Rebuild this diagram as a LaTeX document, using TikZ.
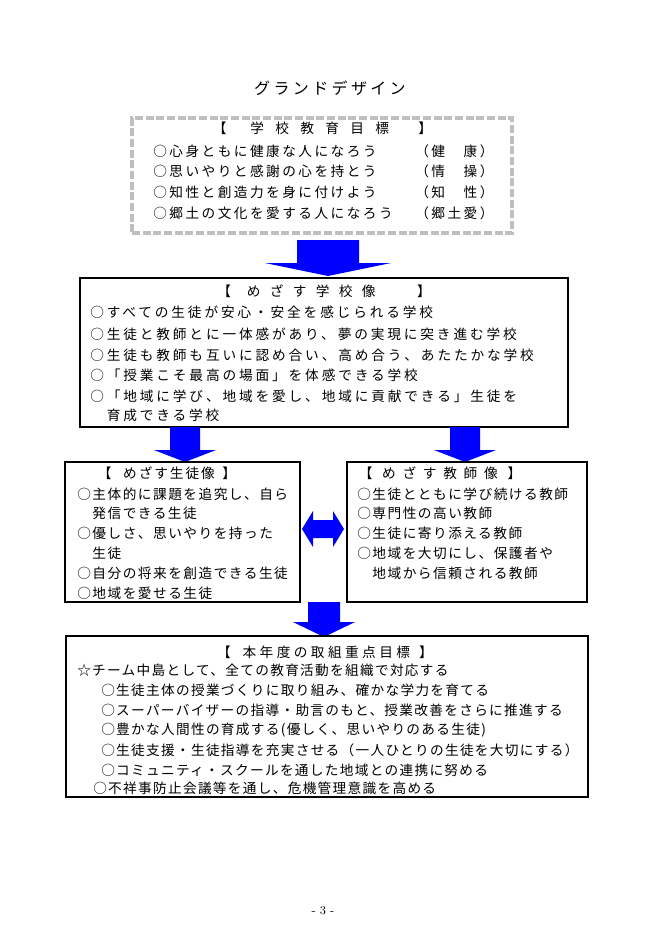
\documentclass[tikz,border=0pt]{standalone}
\usepackage{fontspec}
\newfontfamily\jptitle[LetterSpace=21]{Noto Sans CJK JP}
\newfontfamily\jpgoal[LetterSpace=18]{Noto Sans CJK JP}
\newfontfamily\jpschool[LetterSpace=21]{Noto Sans CJK JP}
\newfontfamily\jpside[LetterSpace=11]{Noto Sans CJK JP}
\newfontfamily\jpstudenthead[LetterSpace=14]{Noto Sans CJK JP}
\newfontfamily\jpteacherhead[LetterSpace=49]{Noto Sans CJK JP}
\newfontfamily\jpplan[LetterSpace=9.5]{Noto Sans CJK JP}
\newfontfamily\jpplanhead[LetterSpace=25]{Noto Sans CJK JP}
\newcommand\wordgap[1]{\spaceskip=#1\relax}
\usetikzlibrary{fit}

\tikzset{
  frame/.style={draw, line width=1.1pt, inner sep=0pt},
  dashframe/.style={draw=gray!50, line width=2.4pt, dash pattern=on 6pt off 2pt, inner sep=0pt},
  line/.style={anchor=west, inner sep=0pt},
  head/.style={inner sep=0pt},
  jpsize/.style={font=#1\fontsize{10.25pt}{12pt}\selectfont},
  goaltxt/.style={jpsize=\jpgoal},
  schooltxt/.style={jpsize=\jpschool},
  sidetxt/.style={jpsize=\jpside},
  plantxt/.style={jpsize=\jpplan},
  blk/.style={fill=blue},
}
% centre x, top, head start, tip, shaft half width, head half width
\newcommand\blkdown[6]{%
  \fill[blk] (#1-#5,#2) -- (#1+#5,#2) -- (#1+#5,#3) -- (#1+#6,#3) -- (#1,#4)
    -- (#1-#6,#3) -- (#1-#5,#3) -- cycle;}

\begin{document}
\begin{tikzpicture}[x=0.75pt,y=-0.75pt]
\useasboundingbox (0,0) rectangle (660,933);

\node[head, font=\jptitle\fontsize{12pt}{14pt}\selectfont] (title) at (330,88) {グランドデザイン};

% 学校教育目標
\node[dashframe, fit={(132,118) (512,233)}] (goal) {};
\node[head, goaltxt] (goalhead) at (322.5,128) {\wordgap{8.5pt}【\hspace{9.4pt} 学 校 教 育 目 標\hspace{13.5pt} 】};
\foreach \y/\t/\r [count=\i] in {151/{○心身ともに健康な人になろう}/{（健　康）},
    171/{○思いやりと感謝の心を持とう}/{（情　操）},
    192/{○知性と創造力を身に付けよう}/{（知　性）},
    213/{○郷土の文化を愛する人になろう}/{（郷土愛）}} {
  \node[line, goaltxt] (g\i) at (153,\y) {\t};
  \node[line, goaltxt] (gr\i) at (415,\y) {\r};
}

\blkdown{328}{240}{263}{276}{31}{63}

% めざす学校像
\node[frame, fit={(80,278) (568,427)}] (school) {};
\node[head, schooltxt] (schoolhead) at (324,291) {\wordgap{7pt}【\hspace{5pt} め ざ す 学 校 像\hspace{24pt} 】};
\foreach \y/\t [count=\i] in {312/{○すべての生徒が安心・安全を感じられる学校},
    334/{○生徒と教師とに一体感があり、夢の実現に突き進む学校},
    355/{○生徒も教師も互いに認め合い、高め合う、あたたかな学校},
    375/{○「授業こそ最高の場面」を体感できる学校},
    396/{○「地域に学び、地域を愛し、地域に貢献できる」生徒を},
    415/{　育成できる学校}} {
  \node[line, schooltxt] (s\i) at (90,\y) {\t};
}

\blkdown{185}{427}{450}{462}{15}{31}
\blkdown{465}{427}{450}{462}{15}{31}

% めざす生徒像
\node[frame, fit={(65,462) (300,602)}] (student) {};
\node[head, jpsize=\jpstudenthead] (studenthead) at (167,473) {【\hspace{5pt} めざす生徒像\hspace{2pt} 】};
\foreach \y/\t [count=\i] in {494/{○主体的に課題を追究し、自ら},
    513/{　発信できる生徒},
    533/{○優しさ、思いやりを持った},
    553/{　生徒},
    573/{○自分の将来を創造できる生徒},
    593/{○地域を愛せる生徒}} {
  \node[line, sidetxt] (p\i) at (77,\y) {\t};
}

% めざす教師像
\node[frame, fit={(347,462) (587,602)}] (teacher) {};
\node[head, jpsize=\jpteacherhead] (teacherhead) at (440,473) {【 めざす教師像 】};
\foreach \y/\t [count=\i] in {494/{○生徒とともに学び続ける教師},
    513/{○専門性の高い教師},
    533/{○生徒に寄り添える教師},
    553/{○地域を大切にし、保護者や},
    573/{　地域から信頼される教師}} {
  \node[line, sidetxt] (t\i) at (357,\y) {\t};
}

% 双方向
\fill[blk] (302,529) -- (313,511) -- (313,520) -- (333,520) -- (333,511) -- (344,529)
  -- (333,547) -- (333,538) -- (313,538) -- (313,547) -- cycle;

\blkdown{324}{602}{622}{637}{16}{31}

% 本年度の取組重点目標
\node[frame, fit={(66,636) (588,797)}] (plan) {};
\node[head, jpsize=\jpplanhead] (planhead) at (325,652) {【\hspace{4pt} 本年度の取組重点目標\hspace{2pt} 】};
\foreach \x/\y/\t [count=\i] in {77/670/{☆チーム中島として、全ての教育活動を組織で対応する},
    101/690/{○生徒主体の授業づくりに取り組み、確かな学力を育てる},
    101/710/{○スーパーバイザーの指導・助言のもと、授業改善をさらに推進する},
    101/730/{○豊かな人間性の育成する(優しく、思いやりのある生徒)},
    101/750/{○生徒支援・生徒指導を充実させる（一人ひとりの生徒を大切にする）},
    101/770/{○コミュニティ・スクールを通した地域との連携に努める},
    93/788/{○不祥事防止会議等を通し、危機管理意識を高める}} {
  \node[line, plantxt] (k\i) at (\x,\y) {\t};
}

\node[head, font=\fontsize{9pt}{10pt}\selectfont] (pageno) at (323,911) {- 3 -};
\end{tikzpicture}
\end{document}
